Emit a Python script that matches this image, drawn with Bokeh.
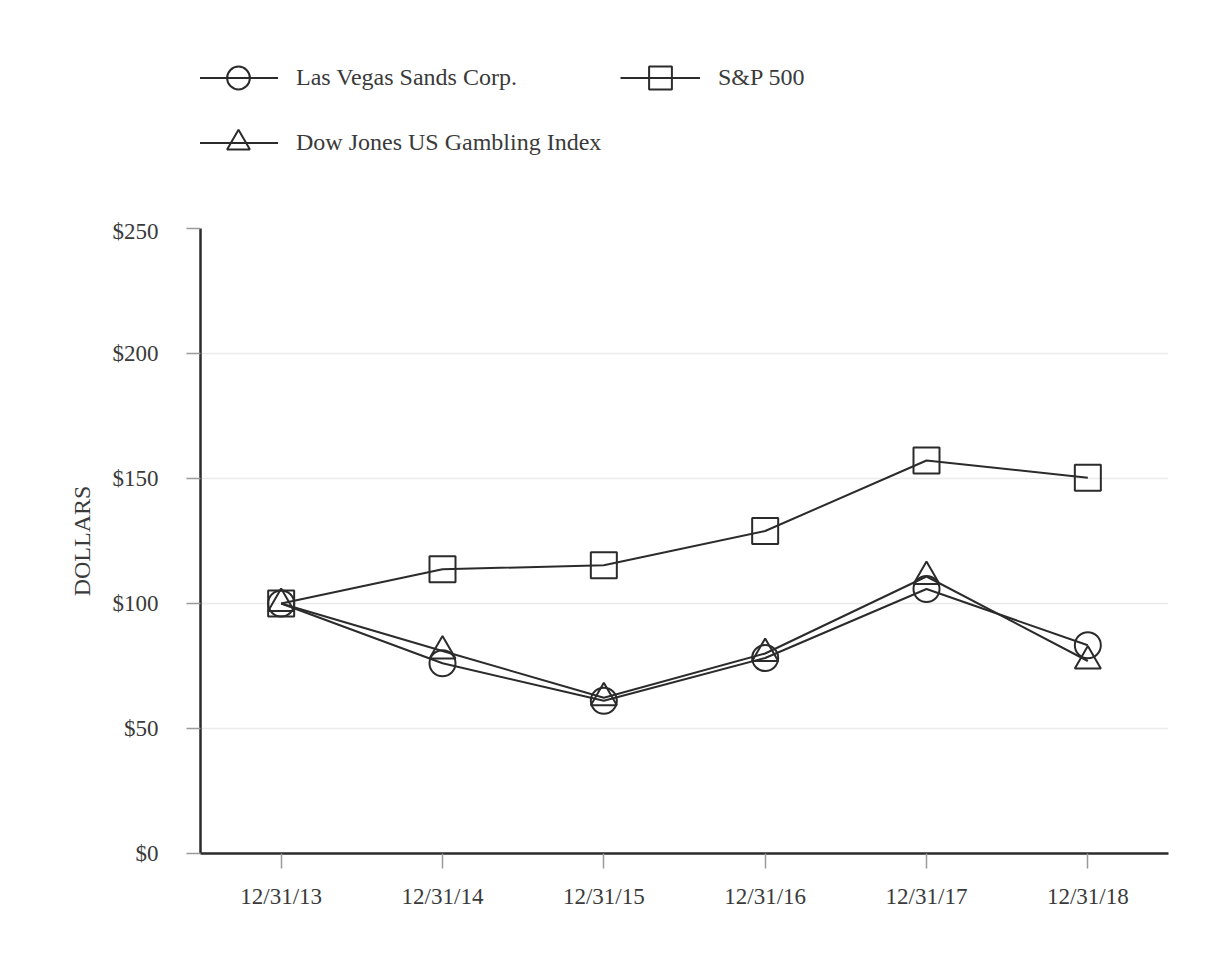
from bokeh.plotting import figure
from bokeh.layouts import column
from bokeh.models import FactorRange, Range1d, FixedTicker, NumeralTickFormatter, Legend, LegendItem
from bokeh.embed import file_html
from bokeh.resources import INLINE

dates = ["12/31/13", "12/31/14", "12/31/15", "12/31/16", "12/31/17", "12/31/18"]
lvs = [100, 76.1, 61.1, 78.2, 105.8, 83.3]
sp500 = [100, 113.7, 115.3, 129.0, 157.2, 150.3]
djgam = [100, 81.0, 62.3, 80.0, 110.8, 77.0]

series_names = ["Las Vegas Sands Corp.", "S&P 500", "Dow Jones US Gambling Index"]
markers = ["circle", "square", "triangle"]
y_ticks = [0, 50, 100, 150, 200, 250]

FONT = "Liberation Serif"
TXT = "#3a3a3a"
LINE = "#2b2b2b"

x_range = FactorRange(factors=dates, range_padding=0)

# ---- legend strip (top); its renderers are hidden, only their legend keys show ----
pl = figure(width=1216, height=218, x_range=x_range, y_range=Range1d(0, 250),
            x_axis_type=None, y_axis_type=None, output_backend="svg", toolbar_location=None,
            min_border=0)
pl.outline_line_color = None
pl.grid.grid_line_color = None
pl.border_fill_color = "white"

leg_items = {}
for vals, marker, name in zip([lvs, sp500, djgam], markers, series_names):
    l = pl.line(dates, vals, line_color=LINE, line_width=2, visible=False)
    s = pl.scatter(dates, vals, marker=marker, size=26, line_color=LINE, line_width=2,
                   fill_color=None, visible=False)
    leg_items[name] = LegendItem(label=name, renderers=[l, s])

legend = Legend(
    items=[leg_items[series_names[0]], leg_items[series_names[2]], leg_items[series_names[1]]],
    ncols=2, location=(-2, 47),
    glyph_width=80, glyph_height=57, label_height=57, label_width=316,
    label_standoff=18, spacing=8, padding=0, margin=0,
    label_text_font=FONT, label_text_font_size="24px", label_text_color=TXT,
    inactive_fill_alpha=0,
    border_line_color=None, background_fill_alpha=0,
)
pl.add_layout(legend, "center")

# ---- main chart ----
p = figure(
    width=1216, height=726,
    x_range=x_range,
    y_range=Range1d(0, 250),
    output_backend="svg", toolbar_location=None,
    min_border_left=200, min_border_right=48, min_border_top=10, min_border_bottom=91,
)
p.frame_width = 968
p.frame_height = 625
p.outline_line_color = None
p.background_fill_color = "white"
p.border_fill_color = "white"

p.xgrid.grid_line_color = None
p.ygrid.grid_line_color = "#ebebeb"
p.ygrid.grid_line_width = 1.5
p.yaxis.ticker = FixedTicker(ticks=y_ticks)
p.yaxis.formatter = NumeralTickFormatter(format="$0")

for ax in (p.xaxis[0], p.yaxis[0]):
    ax.axis_line_color = LINE
    ax.axis_line_width = 2.5
    ax.major_tick_line_color = "#9a9a9a"
    ax.major_tick_line_width = 1.5
    ax.major_tick_in = 0
    ax.minor_tick_line_color = None
    ax.major_label_text_font = FONT
    ax.major_label_text_font_size = "23px"
    ax.major_label_text_color = TXT
    ax.axis_label_text_font = FONT
    ax.axis_label_text_font_size = "24px"
    ax.axis_label_text_color = TXT
    ax.axis_label_text_font_style = "normal"

p.yaxis.major_tick_out = 14
p.yaxis.major_label_standoff = 28
p.yaxis.axis_label = "DOLLARS"
p.yaxis.axis_label_standoff = 15
p.xaxis.major_tick_out = 15
p.xaxis.major_label_standoff = 15

for vals, marker in zip([lvs, sp500, djgam], markers):
    p.line(dates, vals, line_color=LINE, line_width=2)
    p.scatter(dates, vals, marker=marker, size=26, line_color=LINE, line_width=2, fill_color=None)

layout = column(pl, p, spacing=0)
open("out.html", "w").write(file_html(layout, INLINE))
